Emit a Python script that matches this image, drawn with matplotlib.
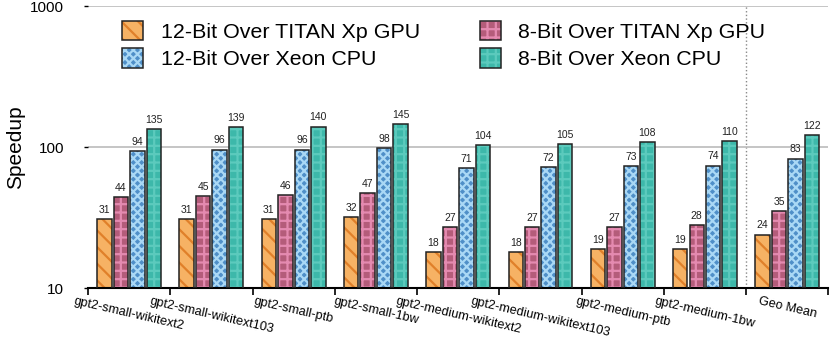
import numpy as np
import matplotlib.pyplot as plt
from matplotlib.patches import Patch

plt.rcParams['font.family'] = ['Liberation Sans', 'DejaVu Sans']
plt.rcParams['hatch.linewidth'] = 1.6

# data
models = ['gpt2-small-wikitext2', 'gpt2-small-wikitext103', 'gpt2-small-ptb',
          'gpt2-small-1bw', 'gpt2-medium-wikitext2', 'gpt2-medium-wikitext103',
          'gpt2-medium-ptb', 'gpt2-medium-1bw', 'Geo Mean']
gpu_12bit = [31, 31, 31, 32, 18, 18, 19, 19, 24]
gpu_8bit = [44, 45, 46, 47, 27, 27, 27, 28, 35]
cpu_12bit = [94, 96, 96, 98, 71, 72, 73, 74, 83]
cpu_8bit = [135, 139, 140, 145, 104, 105, 108, 110, 122]

series = [gpu_12bit, gpu_8bit, cpu_12bit, cpu_8bit]
labels = ['12-Bit Over TITAN Xp GPU', '8-Bit Over TITAN Xp GPU',
          '12-Bit Over Xeon CPU', '8-Bit Over Xeon CPU']
# (face, hatch colour, hatch)
styles = [('#F6B264', '#E0802A', '\\\\'),
          ('#B45C7A', '#E48AB0', '++'),
          ('#4F8FC8', '#A9D8F5', 'xxxx'),
          ('#3DB8AA', '#5CCABD', '++')]

fig = plt.figure(figsize=(8.3, 3.41), dpi=100)
ax = fig.add_axes([0.106, 0.155, 0.892, 0.827])

x = np.arange(len(models))
offsets = [-0.30, -0.10, 0.10, 0.30]
width = 0.175

for vals, off, (fc, hc, hatch) in zip(series, offsets, styles):
    ax.bar(x + off, vals, width, color=fc, edgecolor=hc, hatch=hatch, linewidth=0, zorder=2)
    ax.bar(x + off, vals, width, fill=False, edgecolor='#222222', linewidth=1.1, zorder=3)
    for xi, v in zip(x + off, vals):
        ax.text(xi, v * 1.07, str(v), ha='center', va='bottom', fontsize=7.5, color='#222222')

ax.set_yscale('log')
ax.set_ylim(10, 1000)
ax.set_yticks([10, 100, 1000])
ax.set_yticklabels(['10', '100', '1000'])
ax.minorticks_off()
ax.yaxis.grid(True, color='#BBBBBB', linewidth=1.2, zorder=0)
ax.tick_params(axis='y', labelsize=11, length=3, width=1, pad=14)
ax.set_ylabel('Speedup', fontsize=15, labelpad=4)

ax.set_xlim(-0.5, len(models) - 0.5)
ax.set_xticks(np.arange(len(models) + 1) - 0.5)
ax.set_xticklabels([])
ax.set_xticks(x, minor=True)
ax.set_xticklabels(models, minor=True, rotation=-13, ha='center', fontsize=9.2)
ax.tick_params(axis='x', which='major', length=5, width=1.2, direction='out')
ax.tick_params(axis='x', which='minor', length=0, pad=5)

for s in ['left', 'right', 'top']:
    ax.spines[s].set_visible(False)
ax.spines['bottom'].set_linewidth(1.5)

ax.axvline(7.5, color='#888888', linestyle=':', linewidth=1, zorder=1)

handles = [(Patch(facecolor=fc, edgecolor=hc, hatch=h, linewidth=0),
            Patch(fill=False, edgecolor='#222222', linewidth=1.1)) for fc, hc, h in styles]
order = [0, 2, 1, 3]
ax.legend([handles[i] for i in order], [labels[i] for i in order], ncol=2,
          loc='upper left', bbox_to_anchor=(0.02, 1.015), frameon=False,
          fontsize=15.4, handlelength=1.0, handleheight=1.0, handletextpad=0.8,
          columnspacing=2.8, labelspacing=0.3)

fig.savefig('out.png', dpi=100)
